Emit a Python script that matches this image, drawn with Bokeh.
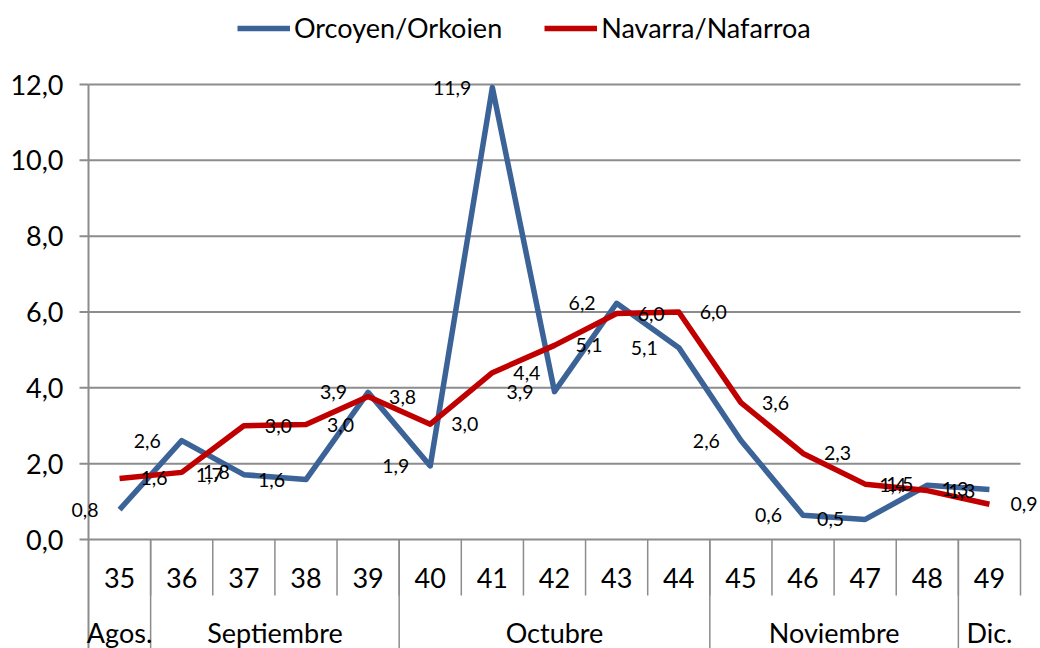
from bokeh.plotting import figure
from bokeh.models import Range1d, Legend, LegendItem, ColumnDataSource, LabelSet
from bokeh.core.properties import value
from bokeh.embed import file_html
from bokeh.resources import INLINE

# ---- data ----
weeks = ["35", "36", "37", "38", "39", "40", "41", "42", "43", "44", "45", "46", "47", "48", "49"]
months = ["Agos.", "Septiembre", "Octubre", "Noviembre", "Dic."]
month_spans = [1, 4, 5, 4, 1]
orcoyen = [0.79, 2.61, 1.71, 1.58, 3.88, 1.94, 11.92, 3.9, 6.23, 5.06, 2.61, 0.64, 0.53, 1.43, 1.32]
navarra = [1.61, 1.77, 3.0, 3.03, 3.77, 3.04, 4.4, 5.12, 5.96, 6.0, 3.61, 2.27, 1.46, 1.29, 0.93]
series_names = ["Orcoyen/Orkoien", "Navarra/Nafarroa"]
y_ticks = [0, 2, 4, 6, 8, 10, 12]
y_tick_labels = ["0,0", "2,0", "4,0", "6,0", "8,0", "10,0", "12,0"]

# ---- geometry / style (page pixels) ----
W, H = 1040, 648
X0_PX, X1_PX = 88, 1020      # category axis extent
Y0_PX, Y12_PX = 539, 84      # value 0 and value 12
BLUE = "#3B6397"
RED = "#C00000"
GRID = "#8C8C8C"
FONT = "Lato"
AXIS_FS = "27px"
LABEL_FS = "19.5px"

n = len(weeks)
ymax = y_ticks[-1]
cat_px = (X1_PX - X0_PX) / n
unit_px = (Y0_PX - Y12_PX) / ymax


def dy(px):  # page y pixel -> data y
    return (Y0_PX - px) / unit_px


def dx(px):  # page x pixel -> data x
    return (px - X0_PX) / cat_px


def fmt(v):
    return f"{v:.1f}".replace(".", ",")


xc = [i + 0.5 for i in range(n)]

p = figure(width=W, height=H, output_backend="svg", toolbar_location=None,
           x_range=Range1d(dx(0), dx(W)), y_range=Range1d(dy(H), dy(0)),
           x_axis_type=None, y_axis_type=None,
           min_border=0, min_border_left=0, min_border_right=0,
           min_border_top=0, min_border_bottom=0)
p.outline_line_color = None
p.background_fill_color = "white"

# horizontal gridlines
p.segment(x0=[0] * len(y_ticks), y0=y_ticks, x1=[n] * len(y_ticks), y1=y_ticks,
          line_color=GRID, line_width=2)
# value axis line and ticks
p.segment(x0=[0], y0=[ymax], x1=[0], y1=[dy(H)], line_color=GRID, line_width=2)
p.segment(x0=[dx(X0_PX - 9)] * len(y_ticks), y0=y_ticks, x1=[0] * len(y_ticks), y1=y_ticks,
          line_color=GRID, line_width=2)
p.text(x=[dx(63)] * len(y_ticks), y=y_ticks, text=y_tick_labels, text_font=value(FONT),
       text_font_size=value(AXIS_FS), text_align="right", text_baseline="middle",
       text_color="#000000")

# category separators
bounds = list(range(1, n + 1))
month_bounds = []
acc = 0
for s in month_spans[:-1]:
    acc += s
    month_bounds.append(acc)
p.segment(x0=bounds, y0=[0] * len(bounds), x1=bounds, y1=[dy(595)] * len(bounds),
          line_color=GRID, line_width=1.5)
p.segment(x0=month_bounds, y0=[0] * len(month_bounds), x1=month_bounds,
          y1=[dy(H)] * len(month_bounds), line_color=GRID, line_width=1.5)

# week labels
p.text(x=xc, y=[dy(577)] * n, text=weeks, text_font=value(FONT), text_font_size=value(AXIS_FS),
       text_align="center", text_baseline="middle", text_color="#000000")
# month labels
mc = []
acc = 0
for s in month_spans:
    mc.append(acc + s / 2)
    acc += s
p.text(x=mc, y=[dy(632)] * len(months), text=months, text_font=value(FONT),
       text_font_size=value(AXIS_FS), text_align="center", text_baseline="middle",
       text_color="#000000")

# series
r1 = p.line(xc, orcoyen, line_color=BLUE, line_width=5.5, line_join="round")
r2 = p.line(xc, navarra, line_color=RED, line_width=5.5, line_join="round")

src1 = ColumnDataSource(dict(x=xc, y=orcoyen, t=[fmt(v) for v in orcoyen]))
src2 = ColumnDataSource(dict(x=xc, y=navarra, t=[fmt(v) for v in navarra]))
p.add_layout(LabelSet(x="x", y="y", text="t", source=src1, x_offset=-21, text_align="right",
                      text_baseline="middle", text_font=value(FONT), text_font_size=LABEL_FS,
                      text_color="#000000"))
p.add_layout(LabelSet(x="x", y="y", text="t", source=src2, x_offset=21, text_align="left",
                      text_baseline="middle", text_font=value(FONT), text_font_size=LABEL_FS,
                      text_color="#000000"))

legend = Legend(items=[LegendItem(label=series_names[0], renderers=[r1]),
                       LegendItem(label=series_names[1], renderers=[r2])],
                location=(237, H - 44), orientation="horizontal",
                border_line_color=None, background_fill_alpha=0,
                label_text_font=FONT, label_text_font_size="27px", label_text_color="#000000",
                label_text_baseline="middle",
                glyph_width=53, glyph_height=30, label_height=30, label_standoff=4, spacing=42,
                padding=0, margin=0)
p.add_layout(legend, "center")

open("out.html", "w").write(file_html(p, INLINE))
